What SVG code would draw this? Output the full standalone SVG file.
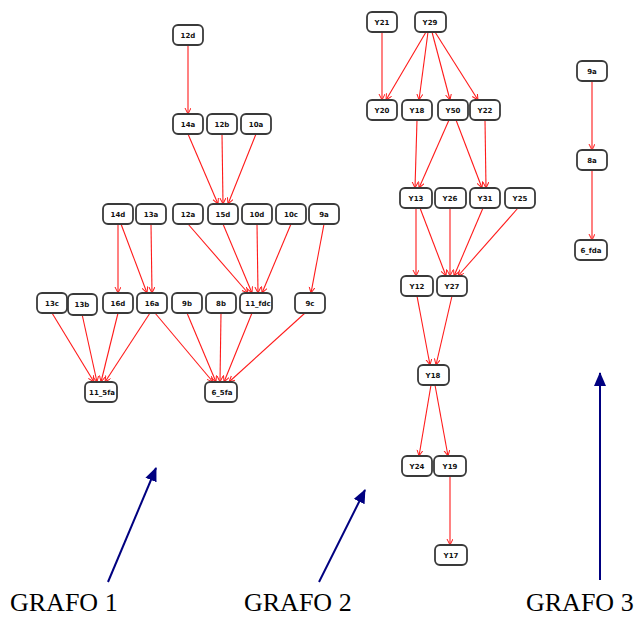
<svg xmlns="http://www.w3.org/2000/svg" width="634" height="618" viewBox="0 0 634 618">
<style>
.n rect{fill:#fff;stroke:#3a3a3a;stroke-width:1.8}
.n text{font-family:"DejaVu Sans",sans-serif;font-size:7px;font-weight:bold;fill:#111;text-anchor:middle}
.e line{stroke:#ff1a1a;stroke-width:1.1;marker-end:url(#ar)}
.e3 line{stroke:#ff8080;stroke-width:2;marker-end:url(#ar2)}
.b line{stroke:#000080;stroke-width:2;marker-end:url(#ab)}
.lbl{font-family:"Liberation Serif",serif;font-size:26px;fill:#000}
</style>
<defs>
<marker id="ar" markerWidth="8" markerHeight="8" refX="6" refY="3" orient="auto" markerUnits="userSpaceOnUse"><path d="M0,0 L6,3 L0,6" fill="none" stroke="#ff1a1a" stroke-width="1"/></marker>
<marker id="ar2" markerWidth="8" markerHeight="8" refX="6" refY="3" orient="auto" markerUnits="userSpaceOnUse"><path d="M0,0 L6,3 L0,6" fill="none" stroke="#ff4040" stroke-width="1.2"/></marker>
<marker id="ab" markerWidth="16" markerHeight="14" refX="13" refY="6" orient="auto" markerUnits="userSpaceOnUse"><path d="M0,0 L14,6 L0,12 Z" fill="#000080"/></marker>
</defs>
<g id="connectors" class="e">
<line x1="188" y1="45" x2="188" y2="114"/>
<line x1="188" y1="134" x2="218" y2="204"/>
<line x1="222" y1="134" x2="223" y2="204"/>
<line x1="256" y1="134" x2="228" y2="204"/>
<line x1="118" y1="224" x2="118" y2="293"/>
<line x1="121" y1="224" x2="147" y2="293"/>
<line x1="151" y1="224" x2="152" y2="293"/>
<line x1="188" y1="224" x2="248" y2="293"/>
<line x1="223" y1="224" x2="252" y2="293"/>
<line x1="257" y1="224" x2="258" y2="293"/>
<line x1="291" y1="224" x2="262" y2="293"/>
<line x1="324" y1="224" x2="311" y2="293"/>
<line x1="52" y1="313" x2="94" y2="382"/>
<line x1="82" y1="314" x2="97" y2="382"/>
<line x1="118" y1="313" x2="101" y2="382"/>
<line x1="150" y1="313" x2="105" y2="382"/>
<line x1="155" y1="313" x2="213" y2="382"/>
<line x1="187" y1="313" x2="216" y2="382"/>
<line x1="221" y1="313" x2="220" y2="382"/>
<line x1="252" y1="313" x2="224" y2="382"/>
<line x1="305" y1="313" x2="229" y2="382"/>
<line x1="382" y1="32" x2="382" y2="100"/>
<line x1="426" y1="32" x2="386" y2="100"/>
<line x1="428" y1="32" x2="419" y2="100"/>
<line x1="432" y1="32" x2="450" y2="100"/>
<line x1="435" y1="32" x2="478" y2="100"/>
<line x1="417" y1="120" x2="415" y2="188"/>
<line x1="449" y1="120" x2="419" y2="188"/>
<line x1="456" y1="120" x2="482" y2="188"/>
<line x1="485" y1="120" x2="486" y2="188"/>
<line x1="416" y1="208" x2="416" y2="276"/>
<line x1="420" y1="208" x2="446" y2="276"/>
<line x1="450" y1="208" x2="450" y2="276"/>
<line x1="483" y1="208" x2="454" y2="276"/>
<line x1="518" y1="208" x2="458" y2="276"/>
<line x1="417" y1="296" x2="430" y2="365"/>
<line x1="452" y1="296" x2="436" y2="365"/>
<line x1="431" y1="385" x2="419" y2="456"/>
<line x1="435" y1="385" x2="448" y2="456"/>
<line x1="450" y1="476" x2="450" y2="545"/>
<g class="e3">
<line x1="592" y1="81" x2="592" y2="150"/>
<line x1="592" y1="170" x2="592" y2="240"/>
</g>
</g>
<g id="pointers" class="b">
<line x1="108" y1="582" x2="156" y2="468"/>
<line x1="319" y1="582" x2="365" y2="490"/>
<line x1="600" y1="580" x2="600" y2="373"/>
</g>
<g id="n12d" class="n"><rect x="173" y="25" width="30" height="20" rx="5"/><text x="188" y="38">12d</text></g>
<g id="n14a" class="n"><rect x="173" y="114" width="30" height="20" rx="5"/><text x="188" y="127">14a</text></g>
<g id="n12b" class="n"><rect x="207" y="114" width="30" height="20" rx="5"/><text x="222" y="127">12b</text></g>
<g id="n10a" class="n"><rect x="241" y="114" width="30" height="20" rx="5"/><text x="256" y="127">10a</text></g>
<g id="n14d" class="n"><rect x="103" y="204" width="30" height="20" rx="5"/><text x="118" y="217">14d</text></g>
<g id="n13a" class="n"><rect x="136" y="204" width="30" height="20" rx="5"/><text x="151" y="217">13a</text></g>
<g id="n12a" class="n"><rect x="173" y="204" width="30" height="20" rx="5"/><text x="188" y="217">12a</text></g>
<g id="n15d" class="n"><rect x="208" y="204" width="30" height="20" rx="5"/><text x="223" y="217">15d</text></g>
<g id="n10d" class="n"><rect x="242" y="204" width="30" height="20" rx="5"/><text x="257" y="217">10d</text></g>
<g id="n10c" class="n"><rect x="276" y="204" width="30" height="20" rx="5"/><text x="291" y="217">10c</text></g>
<g id="n9a1" class="n"><rect x="309" y="204" width="30" height="20" rx="5"/><text x="324" y="217">9a</text></g>
<g id="n13c" class="n"><rect x="37" y="293" width="30" height="20" rx="5"/><text x="52" y="306">13c</text></g>
<g id="n13b" class="n"><rect x="68" y="294" width="29" height="21" rx="5"/><text x="82" y="307">13b</text></g>
<g id="n16d" class="n"><rect x="103" y="293" width="30" height="20" rx="5"/><text x="118" y="306">16d</text></g>
<g id="n16a" class="n"><rect x="137" y="293" width="30" height="20" rx="5"/><text x="152" y="306">16a</text></g>
<g id="n9b" class="n"><rect x="172" y="293" width="30" height="20" rx="5"/><text x="187" y="306">9b</text></g>
<g id="n8b" class="n"><rect x="206" y="293" width="30" height="20" rx="5"/><text x="221" y="306">8b</text></g>
<g id="n11fdc" class="n"><rect x="240" y="293" width="32" height="20" rx="5"/><text x="258" y="306">11_fdc</text></g>
<g id="n9c" class="n"><rect x="295" y="293" width="30" height="20" rx="5"/><text x="310" y="306">9c</text></g>
<g id="n11_5fa" class="n"><rect x="85" y="382" width="32" height="20" rx="5"/><text x="102" y="395">11_5fa</text></g>
<g id="n6_5fa" class="n"><rect x="205" y="382" width="32" height="20" rx="5"/><text x="222" y="395">6_5fa</text></g>
<g id="nY21" class="n"><rect x="367" y="12" width="30" height="20" rx="5"/><text x="382" y="25">Y21</text></g>
<g id="nY29" class="n"><rect x="415" y="12" width="31" height="20" rx="5"/><text x="430" y="25">Y29</text></g>
<g id="nY20" class="n"><rect x="367" y="100" width="30" height="20" rx="5"/><text x="382" y="113">Y20</text></g>
<g id="nY18a" class="n"><rect x="402" y="100" width="30" height="20" rx="5"/><text x="417" y="113">Y18</text></g>
<g id="nY50" class="n"><rect x="438" y="100" width="30" height="20" rx="5"/><text x="453" y="113">Y50</text></g>
<g id="nY22" class="n"><rect x="470" y="100" width="30" height="20" rx="5"/><text x="485" y="113">Y22</text></g>
<g id="nY13" class="n"><rect x="400" y="188" width="32" height="20" rx="5"/><text x="416" y="201">Y13</text></g>
<g id="nY26" class="n"><rect x="435" y="188" width="31" height="20" rx="5"/><text x="450" y="201">Y26</text></g>
<g id="nY31" class="n"><rect x="470" y="188" width="30" height="20" rx="5"/><text x="485" y="201">Y31</text></g>
<g id="nY25" class="n"><rect x="505" y="188" width="30" height="20" rx="5"/><text x="520" y="201">Y25</text></g>
<g id="nY12" class="n"><rect x="401" y="276" width="32" height="20" rx="5"/><text x="417" y="289">Y12</text></g>
<g id="nY27" class="n"><rect x="437" y="276" width="30" height="20" rx="5"/><text x="452" y="289">Y27</text></g>
<g id="nY18b" class="n"><rect x="418" y="365" width="31" height="20" rx="5"/><text x="433" y="378">Y18</text></g>
<g id="nY24" class="n"><rect x="402" y="456" width="30" height="20" rx="5"/><text x="417" y="469">Y24</text></g>
<g id="nY19" class="n"><rect x="434" y="456" width="32" height="20" rx="5"/><text x="450" y="469">Y19</text></g>
<g id="nY17" class="n"><rect x="435" y="545" width="32" height="20" rx="5"/><text x="451" y="558">Y17</text></g>
<g id="n9a3" class="n"><rect x="577" y="61" width="30" height="20" rx="5"/><text x="592" y="74">9a</text></g>
<g id="n8a" class="n"><rect x="577" y="150" width="30" height="20" rx="5"/><text x="592" y="163">8a</text></g>
<g id="n6_fda" class="n"><rect x="575" y="240" width="32" height="20" rx="5"/><text x="591" y="253">6_fda</text></g>
<text class="lbl" x="10" y="611">GRAFO 1</text>
<text class="lbl" x="244" y="611">GRAFO 2</text>
<text class="lbl" x="526" y="611">GRAFO 3</text>
</svg>
